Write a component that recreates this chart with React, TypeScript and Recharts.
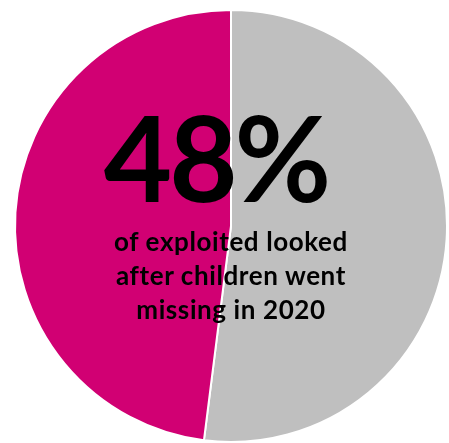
import { PieChart, Pie, Cell } from "recharts";

const labels = ["Did not go missing", "Went missing"];
const shares = [52, 48];
const colors = ["#BFBFBF", "#D10073"];
const headline = "48%";
const captionLines = ["of exploited looked", "after children went", "missing in 2020"];

export default function App() {
  const data = labels.map((name, i) => ({ name, value: shares[i] }));
  return (
    <div style={{ position: "fixed", left: 0, top: 0, width: 449, height: 443, background: "#fff" }}>
      <PieChart width={449} height={443} margin={{ top: 0, right: 0, bottom: 0, left: 0 }}>
        <Pie
          data={data}
          dataKey="value"
          cx={231}
          cy={226}
          outerRadius={216}
          startAngle={90}
          endAngle={-270}
          stroke="#ffffff"
          strokeWidth={2}
          isAnimationActive={false}
        >
          {data.map((d, i) => (
            <Cell key={d.name} fill={colors[i]} />
          ))}
        </Pie>
      </PieChart>
      <div
        style={{
          position: "absolute",
          left: 0,
          top: 98,
          width: 432,
          textAlign: "center",
          fontFamily: "Lato, 'Open Sans', sans-serif",
          fontWeight: 700,
          fontSize: 118,
          lineHeight: "118px",
          color: "#000",
          letterSpacing: -3,
        }}
      >
        {headline}
      </div>
      <div
        style={{
          position: "absolute",
          left: 0,
          top: 224,
          width: 462,
          textAlign: "center",
          fontFamily: "Lato, 'Open Sans', sans-serif",
          fontWeight: 700,
          fontSize: 26,
          lineHeight: "34px",
          letterSpacing: 0.6,
          color: "#000",
        }}
      >
        {captionLines.map((l) => (
          <div key={l}>{l}</div>
        ))}
      </div>
    </div>
  );
}
